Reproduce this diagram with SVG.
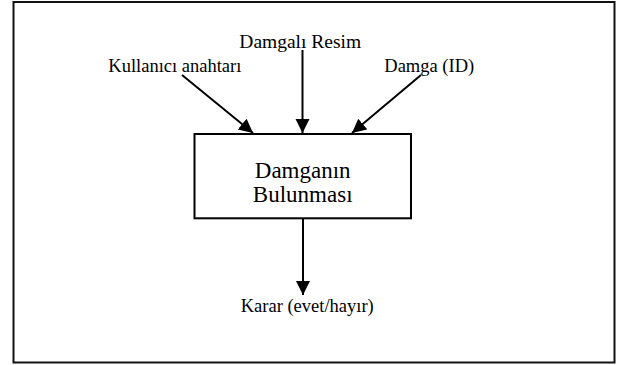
<svg xmlns="http://www.w3.org/2000/svg" width="623" height="365" viewBox="0 0 623 365">
<style>
.lbl{font-family:"Liberation Serif","Times New Roman",serif;font-size:18.5px;fill:#000}
.big{font-family:"Liberation Serif","Times New Roman",serif;font-size:23px;fill:#000}
.edge{stroke:#000;stroke-width:2;fill:none}
.frame{stroke:#111;stroke-width:2;fill:#fff}
</style>
<defs>
<marker id="ah" markerUnits="userSpaceOnUse" markerWidth="15" markerHeight="15" refX="14" refY="7" orient="auto">
<path d="M0,0 L14,7 L0,14 z" fill="#000"/>
</marker>
</defs>
<rect class="frame" x="13.5" y="2" width="601" height="360.5"/>
<g id="n-kullanici"><text class="lbl" x="108.3" y="72">Kullanıcı anahtarı</text></g>
<g id="n-resim"><text class="lbl" x="239.3" y="48" style="font-size:19.5px">Damgalı Resim</text></g>
<g id="n-damga"><text class="lbl" x="384.3" y="72">Damga (ID)</text></g>
<g id="n-bulunmasi">
<rect x="194.5" y="134" width="216.5" height="84.3" fill="#fff" stroke="#000" stroke-width="2"/>
<text class="big" x="302.7" y="177.5" text-anchor="middle">Damganın</text>
<text class="big" x="302.7" y="202" text-anchor="middle">Bulunması</text>
</g>
<g id="n-karar"><text class="lbl" x="240.7" y="311.5">Karar (evet/hayır)</text></g>
<g id="connectors">
<line class="edge" x1="182" y1="75" x2="253" y2="133" marker-end="url(#ah)"/>
<line class="edge" x1="302.5" y1="50" x2="302.5" y2="133" marker-end="url(#ah)"/>
<line class="edge" x1="421" y1="75" x2="352" y2="133" marker-end="url(#ah)"/>
<line class="edge" x1="303" y1="218.3" x2="303" y2="295" marker-end="url(#ah)"/>
</g>
</svg>
